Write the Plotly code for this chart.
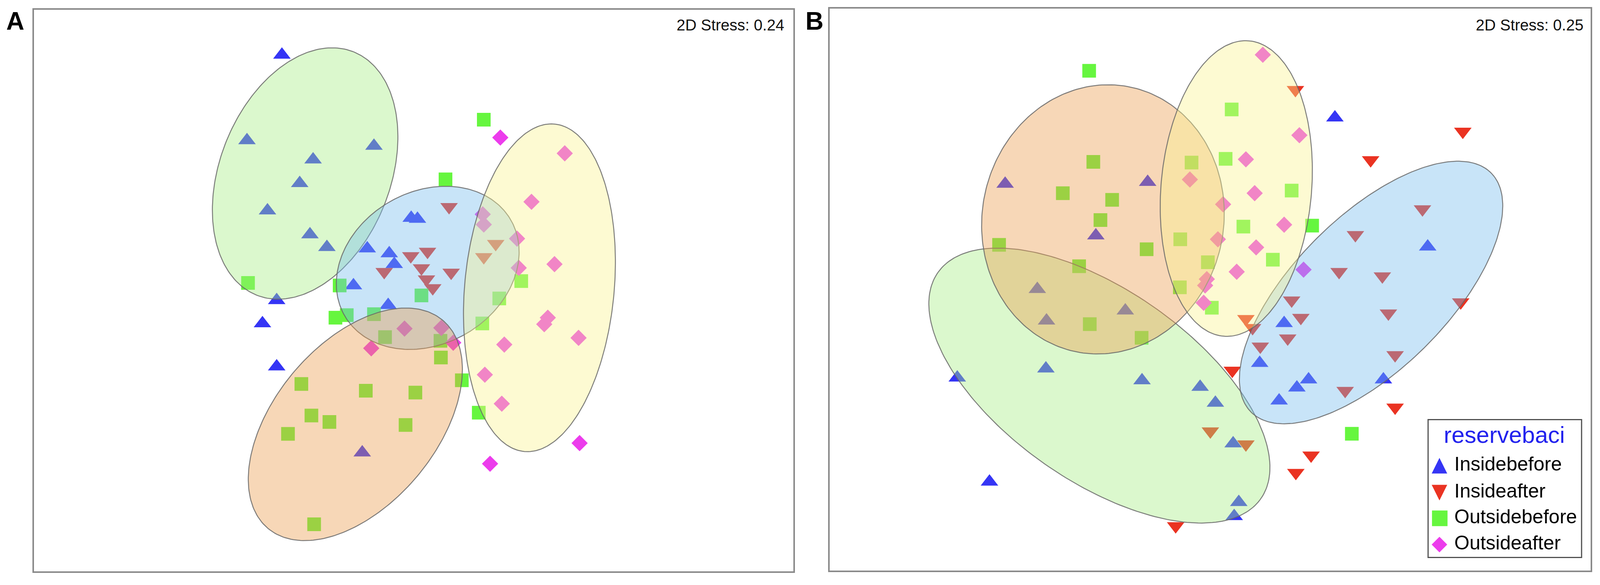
"""
    nMDS ordination of the reserve BACI samples, two panels (A and B)
    with the group ellipses laid over the points.
"""

import numpy as np
import plotly.graph_objects as go

#############################################################################
# Data - nMDS coordinates
#############################################################################
groups = ["Insidebefore", "Insideafter", "Outsidebefore", "Outsideafter"]

# Panel A (2D stress 0.24)
a_insidebefore_x = [-0.629, -0.796, -0.189, -0.480, -0.544, -0.698, -0.495, -0.414, -0.654, -0.722,
                    -0.654, -0.011, 0.019, -0.221, -0.116, -0.092, -0.287, -0.121, -0.245]
a_insidebefore_y = [1.017, 0.648, 0.624, 0.565, 0.463, 0.345, 0.242, 0.187, -0.042, -0.142,
                    -0.328, 0.313, 0.309, 0.181, 0.160, 0.114, 0.022, -0.063, -0.699]
a_insideafter_x = [0.170, -0.013, 0.067, -0.140, 0.038, 0.180, 0.062, 0.092, 0.393, 0.336]
a_insideafter_y = [0.361, 0.149, 0.168, 0.081, 0.097, 0.078, 0.049, 0.011, 0.202, 0.145]
a_outsidebefore_x = [0.336, 0.153, -0.791, -0.353, 0.038, 0.515, 0.410, -0.373, -0.319, -0.189,
                     0.329, -0.136, 0.129, 0.131, 0.231, -0.536, -0.228, 0.009, -0.488, -0.402,
                     -0.600, -0.038, 0.312, -0.475]
a_outsidebefore_y = [0.737, 0.480, 0.033, 0.022, -0.021, 0.041, -0.034, -0.117, -0.106, -0.102,
                     -0.142, -0.201, -0.217, -0.289, -0.387, -0.403, -0.432, -0.440, -0.539, -0.567,
                     -0.618, -0.580, -0.527, -1.008]
a_outsideafter_x = [0.415, 0.723, 0.564, 0.331, 0.336, 0.495, 0.674, 0.503, 0.642, 0.625,
                    0.789, -0.043, 0.133, 0.190, -0.202, 0.434, 0.341, 0.422, 0.794, 0.366]
a_outsideafter_y = [0.660, 0.592, 0.383, 0.329, 0.285, 0.224, 0.114, 0.098, -0.117, -0.145,
                    -0.204, -0.164, -0.161, -0.225, -0.249, -0.233, -0.363, -0.488, -0.658, -0.747]

# Panel B (2D stress 0.25)
b_insidebefore_x = [0.597, -0.981, -0.299, -0.547, -0.827, -0.406, -0.783, 1.041, -1.210, -0.786,
                    -0.326, -0.048, 0.025, 0.354, 0.237, 0.471, 0.415, 0.330, 0.829, 0.110,
                    0.137, 0.115, -1.056]
b_insidebefore_y = [0.742, 0.456, 0.464, 0.233, 0.002, -0.091, -0.134, 0.185, -0.380, -0.341,
                    -0.392, -0.420, -0.489, -0.145, -0.317, -0.388, -0.423, -0.479, -0.388, -0.664,
                    -0.917, -0.978, -0.829]
b_insideafter_x = [0.408, 1.209, 0.768, 1.016, 0.695, 0.617, 0.824, 1.199, 0.390, 0.853,
                   0.434, 0.171, 0.203, 0.371, 0.240, 0.885, 0.106, 0.646, 0.885, 0.001,
                   0.171, 0.483, 0.410, -0.165]
b_insideafter_y = [0.862, 0.682, 0.559, 0.347, 0.236, 0.077, 0.058, -0.054, -0.046, -0.102,
                   -0.121, -0.126, -0.165, -0.210, -0.245, -0.282, -0.349, -0.436, -0.508, -0.611,
                   -0.667, -0.715, -0.790, -1.020]
b_outsidebefore_x = [-0.579, 0.103, -0.559, -0.089, 0.074, -0.705, -0.469, 0.390, -0.525, 0.488,
                     0.159, -1.010, -0.143, -0.304, 0.300, -0.627, -0.011, -0.145, 0.008, -0.576,
                     -0.328, 0.678]
b_outsidebefore_y = [0.944, 0.777, 0.551, 0.548, 0.564, 0.416, 0.387, 0.427, 0.300, 0.276,
                     0.272, 0.193, 0.217, 0.174, 0.129, 0.101, 0.118, 0.010, -0.078, -0.149,
                     -0.208, -0.622]
b_outsideafter_x = [0.252, 0.427, 0.171, -0.097, 0.213, 0.062, 0.354, 0.037, 0.220, 0.127,
                    -0.016, -0.024, -0.031, 0.447]
b_outsideafter_y = [1.013, 0.666, 0.562, 0.475, 0.416, 0.368, 0.280, 0.217, 0.182, 0.077,
                    0.045, 0.018, -0.057, 0.086]

# Group ellipses: centre x, centre y, semi-major, semi-minor, angle (deg)
ell_names = ["green", "blue", "orange", "yellow"]
a_ell_cx = [-0.518, 0.068, -0.278, 0.602]
a_ell_cy = [0.505, 0.098, -0.577, 0.012]
a_ell_major = [0.575, 0.450, 0.615, 0.710]
a_ell_minor = [0.400, 0.335, 0.368, 0.357]
a_ell_angle = [62.4, 21.0, 43.8, 83.8]

b_ell_cx = [-0.530, 0.770, -0.513, 0.125]
b_ell_cy = [-0.414, -0.0125, 0.303, 0.436]
b_ell_major = [0.915, 0.773, 0.593, 0.640]
b_ell_minor = [0.425, 0.347, 0.568, 0.360]
b_ell_angle = [-30.7, 40.4, 45.0, 84.1]

stress_text = ["2D Stress: 0.24", "2D Stress: 0.25"]
panel_labels = ["A", "B"]

#############################################################################
# Styles
#############################################################################
symbols = ["triangle-up", "triangle-down", "square", "diamond"]
marker_colors = ["#3535F5", "#EA3322", "#66F63F", "#EC3CEC"]
marker_sizes = [39, 39, 35, 32]
legend_glyphs = ["\u25B2", "\u25BC", "\u25A0", "\u25C6"]

ell_fill = {
    "green": "rgba(165,238,130,0.4)",
    "blue": "rgba(118,188,238,0.4)",
    "orange": "rgba(235,155,75,0.4)",
    "yellow": "rgba(250,243,143,0.4)",
}
FONT = "Liberation Sans, Arial, sans-serif"

# the page gets shot in a window narrower than asked for (about 4096 px),
# so the figure is kept inside it, body margin included
FIG_W = 4080
FIG_H = 1482


def ellipse_xy(cx, cy, a, b, angle, n=240):
    t = np.linspace(0, 2 * np.pi, n)
    th = np.radians(angle)
    x = cx + a * np.cos(t) * np.cos(th) - b * np.sin(t) * np.sin(th)
    y = cy + a * np.cos(t) * np.sin(th) + b * np.sin(t) * np.cos(th)
    return x, y


fig = go.Figure()

panels = [
    ("x", "y",
     [(a_insidebefore_x, a_insidebefore_y), (a_insideafter_x, a_insideafter_y),
      (a_outsidebefore_x, a_outsidebefore_y), (a_outsideafter_x, a_outsideafter_y)],
     (a_ell_cx, a_ell_cy, a_ell_major, a_ell_minor, a_ell_angle)),
    ("x2", "y2",
     [(b_insidebefore_x, b_insidebefore_y), (b_insideafter_x, b_insideafter_y),
      (b_outsidebefore_x, b_outsidebefore_y), (b_outsideafter_x, b_outsideafter_y)],
     (b_ell_cx, b_ell_cy, b_ell_major, b_ell_minor, b_ell_angle)),
]

for xa, ya, pts, ells in panels:
    # points first, the ellipses are laid over them
    for i, (px, py) in enumerate(pts):
        fig.add_trace(
            go.Scatter(
                x=px,
                y=py,
                mode="markers",
                name=groups[i],
                marker=dict(symbol=symbols[i], size=marker_sizes[i],
                            color=marker_colors[i], line_width=0),
                xaxis=xa,
                yaxis=ya,
                showlegend=False,
            )
        )
    for j, name in enumerate(ell_names):
        ex, ey = ellipse_xy(ells[0][j], ells[1][j], ells[2][j], ells[3][j], ells[4][j])
        fig.add_trace(
            go.Scatter(
                x=ex,
                y=ey,
                mode="lines",
                fill="toself",
                fillcolor=ell_fill[name],
                line=dict(color="rgba(105,105,105,0.85)", width=2.5),
                hoverinfo="skip",
                xaxis=xa,
                yaxis=ya,
                showlegend=False,
            )
        )

axis_style = dict(
    showgrid=False,
    zeroline=False,
    showticklabels=False,
    ticks="",
    showline=True,
    mirror=True,
    linecolor="#8a8a8a",
    linewidth=4,
)

fig.update_layout(
    width=FIG_W,
    height=FIG_H,
    margin=dict(l=0, r=0, t=0, b=0),
    paper_bgcolor="white",
    plot_bgcolor="white",
    font=dict(family=FONT, color="black"),
    showlegend=False,
    xaxis=dict(domain=[0.01925, 0.49573], range=[-1.815, 1.815], anchor="y", **axis_style),
    yaxis=dict(domain=[0.01802, 0.98865], range=[-1.2117, 1.2117], anchor="x", **axis_style),
    xaxis2=dict(domain=[0.51870, 0.99600], range=[-1.82, 1.82], anchor="y2", **axis_style),
    yaxis2=dict(domain=[0.01936, 0.99065], range=[-1.2125, 1.2125], anchor="x2", **axis_style),
)

# panel letters and stress values
for lab, lx in zip(panel_labels, [0.0077, 0.5091]):
    fig.add_annotation(text="<b>" + lab + "</b>", xref="paper", yref="paper",
                       x=lx, y=0.969, xanchor="center", yanchor="middle",
                       showarrow=False, font=dict(size=64, color="black", family=FONT))
for txt, sx in zip(stress_text, [0.4907, 0.9921]):
    fig.add_annotation(text=txt, xref="paper", yref="paper", x=sx, y=0.962,
                       xanchor="right", yanchor="middle", showarrow=False,
                       font=dict(size=40, color="#111111", family=FONT))

# legend box drawn in panel B
fig.add_shape(type="rect", xref="paper", yref="paper",
              x0=0.8941, x1=0.9904, y0=0.0421, y1=0.2804,
              line=dict(color="#505050", width=3), fillcolor="white", layer="above")
fig.add_annotation(text="reservebaci", xref="paper", yref="paper", x=0.9418, y=0.2543,
                   xanchor="center", yanchor="middle", showarrow=False,
                   font=dict(size=60, color="#2222EE", family=FONT))
row_y = [0.2036, 0.1569, 0.1128, 0.0674]
for i, g in enumerate(groups):
    fig.add_annotation(text=legend_glyphs[i], xref="paper", yref="paper", x=0.9013, y=row_y[i],
                       xanchor="center", yanchor="middle", showarrow=False,
                       font=dict(size=52, color=marker_colors[i], family="DejaVu Sans"))
    fig.add_annotation(text=g, xref="paper", yref="paper", x=0.9100, y=row_y[i],
                       xanchor="left", yanchor="middle", showarrow=False,
                       font=dict(size=50, color="black", family=FONT))

fig.write_html("out.html")
